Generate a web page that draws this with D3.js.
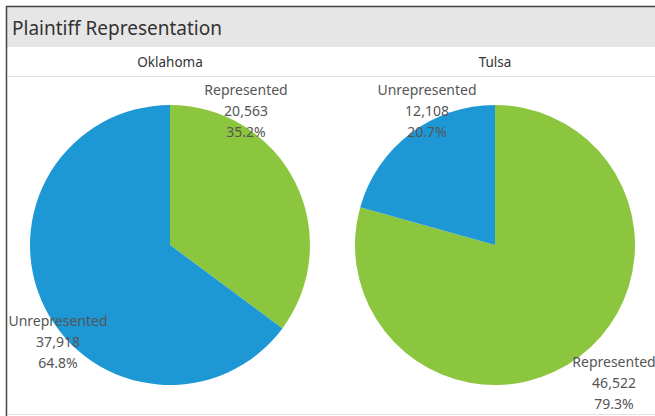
<!DOCTYPE html>
<html>
<head>
<meta charset="utf-8">
<script src="https://cdn.jsdelivr.net/npm/d3@7"></script>
<style>
  body { margin: 0; background: #fff; }
  svg text { font-family: "Noto Sans", "Open Sans", sans-serif; }
</style>
</head>
<body>
<svg width="655" height="416"></svg>
<script>
// data
var regions = ['Oklahoma', 'Tulsa'];
var categories = ['Represented', 'Unrepresented'];
var counts = {
  Oklahoma: [20563, 37918],
  Tulsa: [46522, 12108]
};
var colors = ['#8cc63f', '#1e98d5'];

// label anchors relative to each pie centre (layout only)
var labelOffsets = {
  Oklahoma: [[76, -150], [-112, 81]],
  Tulsa: [[119, 122], [-68, -150]]
};

var svg = d3.select('svg'),
    width = +svg.attr('width'),
    height = +svg.attr('height');

// frame + title band
svg.append('rect').attr('x', 7).attr('y', 7).attr('width', width - 7).attr('height', 40).attr('fill', '#e6e6e6');
svg.append('line').attr('x1', 6).attr('x2', width).attr('y1', 6.5).attr('y2', 6.5).attr('stroke', '#444').attr('stroke-width', 1.5);
svg.append('line').attr('x1', 6.5).attr('x2', 6.5).attr('y1', 6).attr('y2', height).attr('stroke', '#444').attr('stroke-width', 1.5);
svg.append('line').attr('x1', 7).attr('x2', width).attr('y1', 76.5).attr('y2', 76.5).attr('stroke', '#e2e2e2');
svg.append('line').attr('x1', 7).attr('x2', width).attr('y1', 414.5).attr('y2', 414.5).attr('stroke', '#e2e2e2');

svg.append('text')
    .attr('x', 12).attr('y', 35)
    .attr('font-size', 19)
    .attr('fill', '#333')
    .text('Plaintiff Representation');

var x = d3.scalePoint().domain(regions).range([170, 495]);
var cy = 245, radius = 140;

var pie = d3.pie().sort(null).value(function(d) { return d; });
var arc = d3.arc().innerRadius(0).outerRadius(radius);
var fmt = d3.format(',');
var pct = d3.format('.1%');

regions.forEach(function(r) {
  svg.append('text')
      .attr('x', x(r)).attr('y', 67)
      .attr('text-anchor', 'middle')
      .attr('font-size', 13.5)
      .attr('fill', '#333')
      .text(r);

  var g = svg.append('g').attr('transform', 'translate(' + x(r) + ',' + cy + ')');
  var total = d3.sum(counts[r]);
  var slices = pie(counts[r]);

  g.selectAll('path')
      .data(slices)
      .enter().append('path')
      .attr('d', arc)
      .attr('fill', function(d, i) { return colors[i]; });

  var lbl = g.selectAll('.lbl')
      .data(slices)
      .enter().append('text')
      .attr('class', 'lbl')
      .attr('text-anchor', 'middle')
      .attr('font-size', 14)
      .attr('fill', '#555')
      .attr('transform', function(d, i) {
        return 'translate(' + labelOffsets[r][i] + ')';
      });
  lbl.append('tspan').attr('x', 0).attr('dy', 0).text(function(d, i) { return categories[i]; });
  lbl.append('tspan').attr('x', 0).attr('dy', 21).text(function(d) { return fmt(d.value); });
  lbl.append('tspan').attr('x', 0).attr('dy', 21).text(function(d) { return pct(d.value / total); });
});
</script>
</body>
</html>
